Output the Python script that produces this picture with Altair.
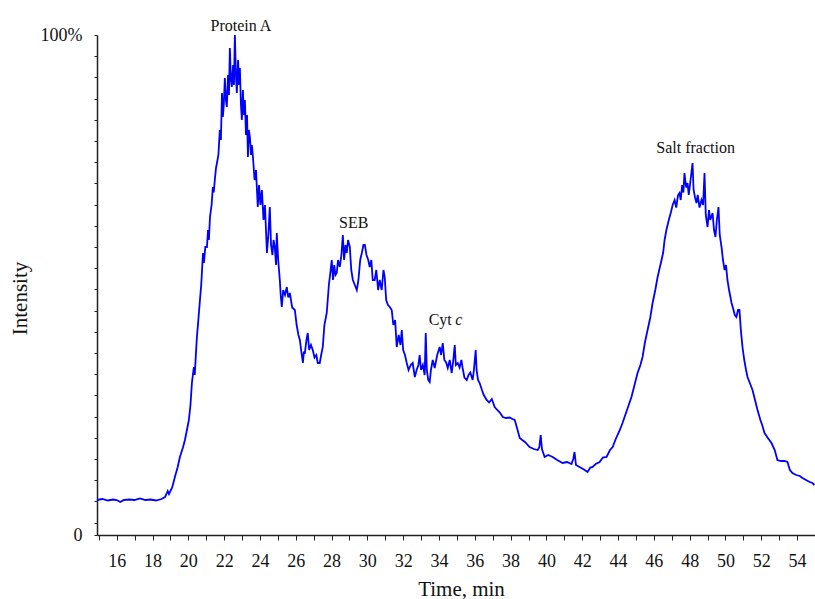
import altair as alt
import pandas as pd

# Retention time (min) and relative intensity (%)
time_min = [
    14.90, 15.20, 15.50, 15.80, 16.00, 16.20, 16.40, 16.70, 17.00, 17.30, 17.60, 17.90, 18.20, 18.50, 18.70,
    18.85, 18.92, 19.10, 19.25, 19.40, 19.53, 19.70, 19.81, 19.95, 20.03, 20.12, 20.20, 20.31, 20.36, 20.42,
    20.48, 20.56, 20.65, 20.72, 20.82, 20.87, 20.95, 21.04, 21.10, 21.15, 21.21, 21.30, 21.37, 21.42, 21.48,
    21.55, 21.60, 21.68, 21.76, 21.82, 21.88, 21.93, 21.98, 22.04, 22.10, 22.15, 22.22, 22.27, 22.32, 22.38,
    22.43, 22.50, 22.55, 22.60, 22.66, 22.71, 22.78, 22.83, 22.88, 22.94, 22.99, 23.05, 23.10, 23.16, 23.22,
    23.28, 23.33, 23.38, 23.44, 23.50, 23.55, 23.61, 23.70, 23.78, 23.88, 23.95, 24.03, 24.11, 24.20, 24.28,
    24.39, 24.47, 24.55, 24.62, 24.70, 24.76, 24.83, 24.90, 24.94, 25.02, 25.11, 25.16, 25.22, 25.30, 25.40,
    25.50, 25.58, 25.67, 25.80, 25.95, 26.05, 26.15, 26.23, 26.30, 26.40, 26.45, 26.51, 26.60, 26.67, 26.75,
    26.85, 26.95, 27.05, 27.15, 27.23, 27.34, 27.42, 27.51, 27.60, 27.73, 27.85, 27.95, 28.01, 28.08, 28.15,
    28.22, 28.29, 28.36, 28.46, 28.55, 28.63, 28.70, 28.78, 28.85, 28.92, 29.02, 29.10, 29.19, 29.30, 29.41,
    29.50, 29.60, 29.69, 29.78, 29.86, 29.95, 30.05, 30.13, 30.22, 30.30, 30.41, 30.50, 30.60, 30.69, 30.80,
    30.90, 30.97, 31.05, 31.15, 31.25, 31.36, 31.45, 31.55, 31.64, 31.75, 31.85, 31.92, 32.00, 32.10, 32.20,
    32.30, 32.42, 32.53, 32.65, 32.75, 32.85, 32.92, 33.00, 33.10, 33.20, 33.26, 33.32, 33.40, 33.48, 33.55,
    33.65, 33.76, 33.90, 34.04, 34.12, 34.21, 34.30, 34.40, 34.49, 34.60, 34.71, 34.80, 34.88, 34.94, 35.05,
    35.15, 35.25, 35.32, 35.42, 35.55, 35.65, 35.75, 35.88, 35.95, 36.05, 36.10, 36.18, 36.27, 36.40, 36.50,
    36.66, 36.80, 36.95, 37.11, 37.25, 37.40, 37.56, 37.75, 37.95, 38.10, 38.23, 38.35, 38.51, 38.65, 38.80,
    39.06, 39.30, 39.51, 39.60, 39.68, 39.75, 39.90, 40.10, 40.35, 40.60, 40.90, 41.15, 41.40, 41.50, 41.57,
    41.65, 41.85, 42.05, 42.30, 42.45, 42.58, 42.75, 42.97, 43.15, 43.36, 43.55, 43.70, 43.85, 43.97, 44.10,
    44.25, 44.50, 44.75, 44.92, 45.09, 45.25, 45.37, 45.50, 45.65, 45.80, 45.93, 46.08, 46.21, 46.30, 46.43,
    46.52, 46.60, 46.70, 46.80, 46.88, 46.95, 47.05, 47.16, 47.25, 47.35, 47.43, 47.50, 47.58, 47.65, 47.71,
    47.80, 47.88, 47.95, 48.05, 48.16, 48.22, 48.30, 48.38, 48.45, 48.55, 48.66, 48.75, 48.83, 48.90, 49.00,
    49.08, 49.15, 49.28, 49.36, 49.44, 49.52, 49.61, 49.68, 49.78, 49.86, 49.95, 50.03, 50.11, 50.20, 50.34,
    50.45, 50.52, 50.61, 50.70, 50.78, 50.86, 50.95, 51.05, 51.15, 51.23, 51.35, 51.51, 51.65, 51.79, 51.95,
    52.05, 52.18, 52.35, 52.57, 52.75, 52.90, 53.10, 53.30, 53.46, 53.60, 53.74, 53.95, 54.15, 54.30, 54.50,
    54.70, 54.86, 54.97,
]
intensity = [
    7.0, 7.2, 6.9, 7.1, 7.0, 6.6, 7.0, 7.1, 7.0, 7.3, 7.0, 7.1, 6.9, 7.2, 7.6,
    8.8, 8.2, 9.5, 11.6, 13.5, 15.6, 17.5, 19.0, 21.5, 23.0, 26.0, 30.4, 33.6, 32.0, 36.0,
    39.6, 43.0, 47.0, 50.0, 56.4, 54.4, 57.6, 57.6, 61.0, 59.0, 63.6, 66.0, 69.6, 68.5, 71.0,
    73.5, 74.4, 76.0, 81.0, 79.0, 88.4, 83.6, 86.0, 91.4, 87.0, 85.6, 92.0, 88.0, 97.4, 91.0,
    89.6, 94.0, 90.0, 100.0, 92.0, 88.4, 95.0, 90.0, 93.4, 86.0, 83.0, 89.0, 84.0, 87.0, 80.0,
    84.0, 75.6, 81.0, 79.6, 76.0, 78.0, 75.6, 71.0, 73.0, 65.6, 70.0, 66.0, 69.0, 63.0, 66.0,
    56.4, 60.0, 65.6, 58.0, 56.0, 59.0, 57.6, 54.0, 60.4, 55.0, 51.0, 48.0, 45.6, 49.0, 48.0,
    49.6, 47.5, 48.4, 45.5, 45.0, 42.0, 40.0, 39.0, 37.0, 34.4, 36.5, 36.4, 39.0, 40.4, 37.0,
    38.0, 37.0, 35.5, 36.0, 34.4, 34.4, 36.0, 37.6, 42.0, 44.4, 50.0, 53.0, 55.0, 51.0, 54.0,
    52.0, 52.4, 55.0, 53.6, 56.0, 60.0, 55.0, 58.0, 56.4, 59.0, 57.6, 53.0, 51.0, 50.0, 49.0,
    51.0, 55.0, 56.4, 58.0, 58.0, 56.0, 55.0, 53.6, 55.0, 51.0, 51.0, 53.0, 49.0, 51.0, 49.0,
    53.0, 51.6, 47.0, 46.0, 45.6, 45.0, 42.0, 43.0, 37.6, 40.0, 38.0, 41.0, 37.0, 36.0, 34.4,
    33.0, 34.0, 34.4, 31.6, 33.0, 34.0, 36.0, 33.0, 34.0, 32.0, 40.4, 33.0, 31.0, 30.6, 33.0,
    35.0, 33.4, 36.0, 37.6, 36.0, 38.4, 35.0, 34.5, 33.4, 35.0, 32.4, 35.0, 38.0, 34.0, 34.4,
    33.5, 35.0, 33.4, 31.5, 31.0, 32.0, 32.5, 31.0, 33.0, 37.0, 33.0, 31.0, 30.4, 29.0, 28.0,
    27.0, 26.5, 27.2, 25.6, 25.0, 24.5, 23.6, 23.4, 23.5, 23.2, 23.0, 21.5, 19.4, 19.0, 18.6,
    17.6, 17.2, 17.0, 17.5, 20.0, 17.2, 15.6, 16.0, 15.6, 15.0, 14.4, 14.6, 14.2, 15.2, 16.6,
    14.0, 13.6, 13.2, 12.6, 13.5, 13.6, 14.2, 14.6, 15.5, 15.6, 17.0, 17.6, 19.0, 20.0, 21.0,
    22.4, 25.0, 27.6, 30.0, 32.4, 34.0, 35.6, 38.5, 41.0, 43.5, 46.4, 49.0, 51.6, 53.0, 55.0,
    56.5, 59.0, 61.0, 62.5, 63.6, 64.5, 66.0, 67.0, 65.5, 68.0, 68.4, 67.0, 70.0, 68.5, 72.4,
    69.5, 70.4, 68.0, 71.0, 74.4, 69.0, 67.5, 66.4, 68.0, 65.5, 67.0, 66.0, 72.4, 64.0, 61.6,
    65.0, 63.0, 64.4, 61.0, 59.6, 63.0, 65.6, 60.0, 57.6, 55.0, 53.0, 54.0, 51.0, 49.0, 46.4,
    45.0, 44.0, 43.6, 45.0, 45.0, 41.0, 37.6, 35.0, 33.0, 31.6, 30.5, 29.0, 27.0, 25.0, 23.0,
    22.0, 20.4, 19.5, 18.4, 17.0, 15.0, 14.8, 14.8, 14.6, 13.0, 12.4, 12.0, 11.8, 11.4, 11.0,
    10.6, 10.4, 10.0,
]

# Peak annotations
peak_labels = ["Protein A", "SEB", "Cyt", "Salt fraction"]
peak_time = [22.94, 29.24, 34.07, 48.33]
peak_level = [100.8, 61.4, 42.0, 76.4]
italic_labels = ["c"]
italic_time = [35.10]
italic_level = [42.0]

# Axis tick positions
x_ticks = list(range(15, 56))
y_ticks = [round(100 - 4.24 * k, 2) for k in range(24)] + [0]

df = pd.DataFrame({"time": time_min, "intensity": intensity})
ann = pd.DataFrame({"label": peak_labels, "time": peak_time, "intensity": peak_level})
ann_i = pd.DataFrame({"label": italic_labels, "time": italic_time, "intensity": italic_level})

FONT = "Liberation Serif"

x_scale = alt.Scale(domain=[14.9, 55.0], nice=False, zero=False)
y_scale = alt.Scale(domain=[0, 100], nice=False)

x_axis = alt.Axis(
    title="Time, min",
    values=x_ticks,
    tickCount=200,
    format="d",
    labelExpr="datum.value % 2 == 0 ? format(datum.value, 'd') : ''",
    grid=False,
    tickSize=5,
    labelPadding=12,
    labelFont=FONT,
    labelFontSize=18,
    labelColor="#111",
    labelOverlap=False,
    labelFlush=False,
    domainColor="#222",
    domainWidth=1.5,
    tickColor="#222",
    titleFont=FONT,
    titleFontSize=21,
    titleFontWeight="normal",
    titleColor="#111",
    titleX=364,
    titleY=60,
    titleBaseline="alphabetic",
)
y_axis = alt.Axis(
    title="Intensity",
    values=y_ticks,
    tickCount=200,
    labelExpr="datum.value == 0 ? '0' : (datum.value == 100 ? '100%' : '')",
    grid=False,
    tickSize=3,
    labelPadding=12,
    labelFont=FONT,
    labelFontSize=18,
    labelColor="#111",
    labelOverlap=False,
    domainColor="#222",
    domainWidth=1.5,
    tickColor="#222",
    titleFont=FONT,
    titleFontSize=21,
    titleFontWeight="normal",
    titleColor="#111",
    titleAngle=270,
    titleAlign="center",
    titleBaseline="middle",
    titleX=-77,
    titleY=263,
)

line = alt.Chart(df).mark_line(color="#0000ff", strokeWidth=1.8).encode(
    x=alt.X("time:Q", scale=x_scale, axis=x_axis),
    y=alt.Y("intensity:Q", scale=y_scale, axis=y_axis),
    order="time:Q",
)

text = alt.Chart(ann).mark_text(
    font=FONT, fontSize=16, color="#111", align="center", baseline="alphabetic"
).encode(
    x=alt.X("time:Q", scale=x_scale, axis=x_axis),
    y=alt.Y("intensity:Q", scale=y_scale, axis=y_axis),
    text="label:N",
)

text_i = alt.Chart(ann_i).mark_text(
    font=FONT, fontSize=16, fontStyle="italic", color="#111", align="center", baseline="alphabetic"
).encode(
    x=alt.X("time:Q", scale=x_scale, axis=x_axis),
    y=alt.Y("intensity:Q", scale=y_scale, axis=y_axis),
    text="label:N",
)

chart = (
    alt.layer(line, text, text_i)
    .properties(
        width=718,
        height=500,
        padding={"left": 97, "top": 35, "right": 0, "bottom": 64},
        autosize=alt.AutoSizeParams(type="none"),
        background="white",
    )
    .configure_view(stroke=None)
)

chart.save("out.html", embed_options={"renderer": "svg", "actions": False})
